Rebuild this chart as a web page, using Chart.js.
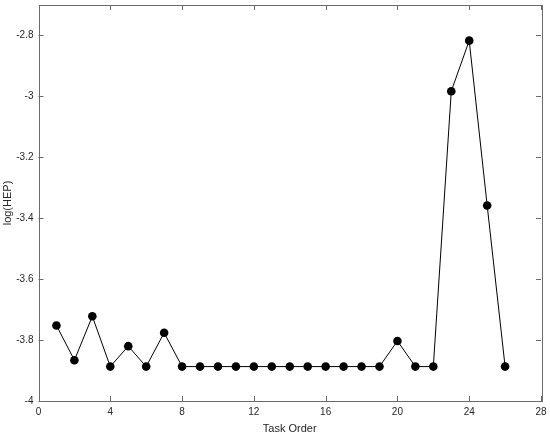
<!DOCTYPE html>
<html>
<head>
<meta charset="utf-8">
<script src="https://cdn.jsdelivr.net/npm/chart.js@4/dist/chart.umd.min.js"></script>
<style>
  html, body { margin: 0; padding: 0; background: #fff; }
  #wrap { width: 550px; height: 436px; }
</style>
</head>
<body>
<div id="wrap"><canvas id="chart"></canvas></div>
<script>
// Dados
const taskOrder = [1, 2, 3, 4, 5, 6, 7, 8, 9, 10, 11, 12, 13, 14, 15, 16, 17, 18, 19, 20, 21, 22, 23, 24, 25, 26];
const logHEP = [-3.752, -3.866, -3.722, -3.887, -3.820, -3.887, -3.776, -3.887, -3.887, -3.887,
                -3.887, -3.887, -3.887, -3.887, -3.887, -3.887, -3.887, -3.887, -3.887, -3.803,
                -3.887, -3.887, -2.983, -2.817, -3.358, -3.887];
const xTicks = [0, 4, 8, 12, 16, 20, 24, 28];
const yTicks = [-4, -3.8, -3.6, -3.4, -3.2, -3, -2.8];

const frameColor = '#6b6b6b';
const textColor = '#262626';

// Moldura com marcas de escala para dentro (nos quatro lados)
const framePlugin = {
    id: 'frame',
    afterDraw(chart) {
        const { ctx, chartArea: a, scales } = chart;
        ctx.save();
        ctx.strokeStyle = frameColor;
        ctx.lineWidth = 1;
        ctx.strokeRect(Math.round(a.left) + 0.5, Math.round(a.top) + 0.5,
            Math.round(a.right - a.left), Math.round(a.bottom - a.top));
        const len = 5;
        ctx.beginPath();
        xTicks.forEach(v => {
            const x = Math.round(scales.x.getPixelForValue(v)) + 0.5;
            ctx.moveTo(x, a.bottom); ctx.lineTo(x, a.bottom - len);
            ctx.moveTo(x, a.top); ctx.lineTo(x, a.top + len);
        });
        yTicks.forEach(v => {
            const y = Math.round(scales.y.getPixelForValue(v)) + 0.5;
            ctx.moveTo(a.left, y); ctx.lineTo(a.left + len, y);
            ctx.moveTo(a.right, y); ctx.lineTo(a.right - len, y);
        });
        ctx.stroke();
        ctx.restore();
    }
};

const config = {
    type: 'line',
    data: {
        datasets: [{
            data: taskOrder.map((t, i) => ({ x: t, y: logHEP[i] })),
            borderColor: '#000',
            borderWidth: 1,
            backgroundColor: '#000',
            pointRadius: 4.3,
            pointBorderWidth: 0,
            tension: 0
        }]
    },
    options: {
        responsive: true,
        maintainAspectRatio: false,
        animation: false,
        layout: { padding: { top: 5, right: 9, left: 0, bottom: 0 } },
        plugins: { legend: { display: false }, tooltip: { enabled: false } },
        scales: {
            x: {
                type: 'linear',
                min: 0,
                max: 28,
                afterBuildTicks: scale => { scale.ticks = xTicks.map(v => ({ value: v })); },
                afterFit: scale => {
                    scale.height = 35;
                    scale.paddingLeft = 0;
                    scale.paddingRight = 0;
                },
                grid: { display: false, drawTicks: false },
                border: { display: false },
                ticks: { color: textColor, font: { family: 'Liberation Sans', size: 10 }, padding: 5, maxRotation: 0 },
                title: {
                    display: true,
                    text: 'Task Order',
                    color: textColor,
                    font: { family: 'Liberation Sans', size: 11 },
                    padding: { top: 0, bottom: 0 }
                }
            },
            y: {
                type: 'linear',
                min: -4,
                max: -2.7,
                afterBuildTicks: scale => { scale.ticks = yTicks.map(v => ({ value: v })); },
                afterFit: scale => {
                    scale.width = 38.5;
                    scale.paddingTop = 0;
                    scale.paddingBottom = 0;
                },
                grid: { display: false, drawTicks: false },
                border: { display: false },
                ticks: {
                    color: textColor,
                    font: { family: 'Liberation Sans', size: 10 },
                    padding: 5,
                    callback: v => String(Number(v.toFixed(1)))
                },
                title: {
                    display: true,
                    text: 'log(HEP)',
                    color: textColor,
                    font: { family: 'Liberation Sans', size: 11 },
                    padding: { top: 1, bottom: 0 }
                }
            }
        }
    },
    plugins: [framePlugin]
};

const chart = new Chart(document.getElementById('chart'), config);
</script>
</body>
</html>
